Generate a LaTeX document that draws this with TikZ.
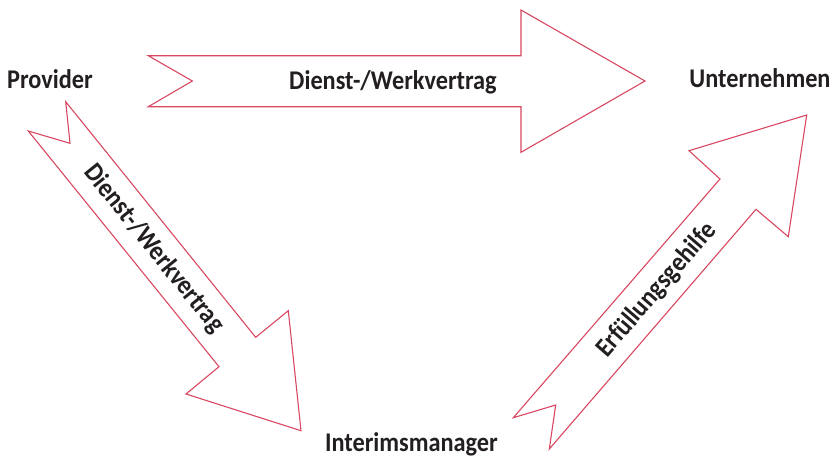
\documentclass[tikz,border=0pt]{standalone}
\usepackage{fontspec}
\setmainfont{Carlito}[FakeStretch=0.9]
\definecolor{arrowred}{RGB}{217,72,98}
\definecolor{txtcol}{RGB}{35,31,32}
\begin{document}
\begin{tikzpicture}[x=1pt,y=-1pt,
  blockarrow/.style={draw=arrowred, line width=1.1pt, fill=white, line join=miter},
  lbl/.style={font=\bfseries\fontsize{27}{30}\selectfont, text=txtcol, inner sep=0pt}]
\useasboundingbox (0,0) rectangle (833,459);
% top arrow: Provider -> Unternehmen
\draw[blockarrow] (148.3,55.7) -- (521,55.7) -- (521,10) -- (645,81) -- (521,152.3)
  -- (521,106.7) -- (148.3,106.7) -- (192.3,81) -- cycle;
% left arrow: Provider -> Interimsmanager
\draw[blockarrow] (65.7,101.7) -- (255.7,337.3) -- (288.3,310.7) -- (301,430.7)
  -- (186,394) -- (219,366.7) -- (28.3,131) -- (70,143.3) -- cycle;
% right arrow: Interimsmanager -> Unternehmen
\draw[blockarrow] (513.3,417.7) -- (720,179) -- (689,150.7) -- (806.7,115)
  -- (788.3,236.7) -- (756,209.3) -- (549.3,449) -- (555.7,405) -- cycle;
% party labels
\node[lbl, anchor=base] (provider) at (50,88) {Provider};
\node[lbl, anchor=base] (unternehmen) at (760,87) {Unternehmen};
\node[lbl, anchor=base] (interim) at (411.5,451.5) {Interimsmanager};
% arrow labels
\node[lbl, anchor=base] (vertragtop) at (393,89) {Dienst-/Werkvertrag};
\node[lbl, rotate=-51.1] (vertragleft) at (154,249) {Dienst-/Werkvertrag};
\node[lbl, rotate=49.2] (gehilfe) at (656.7,290) {Erfüllungsgehilfe};
\end{tikzpicture}
\end{document}
